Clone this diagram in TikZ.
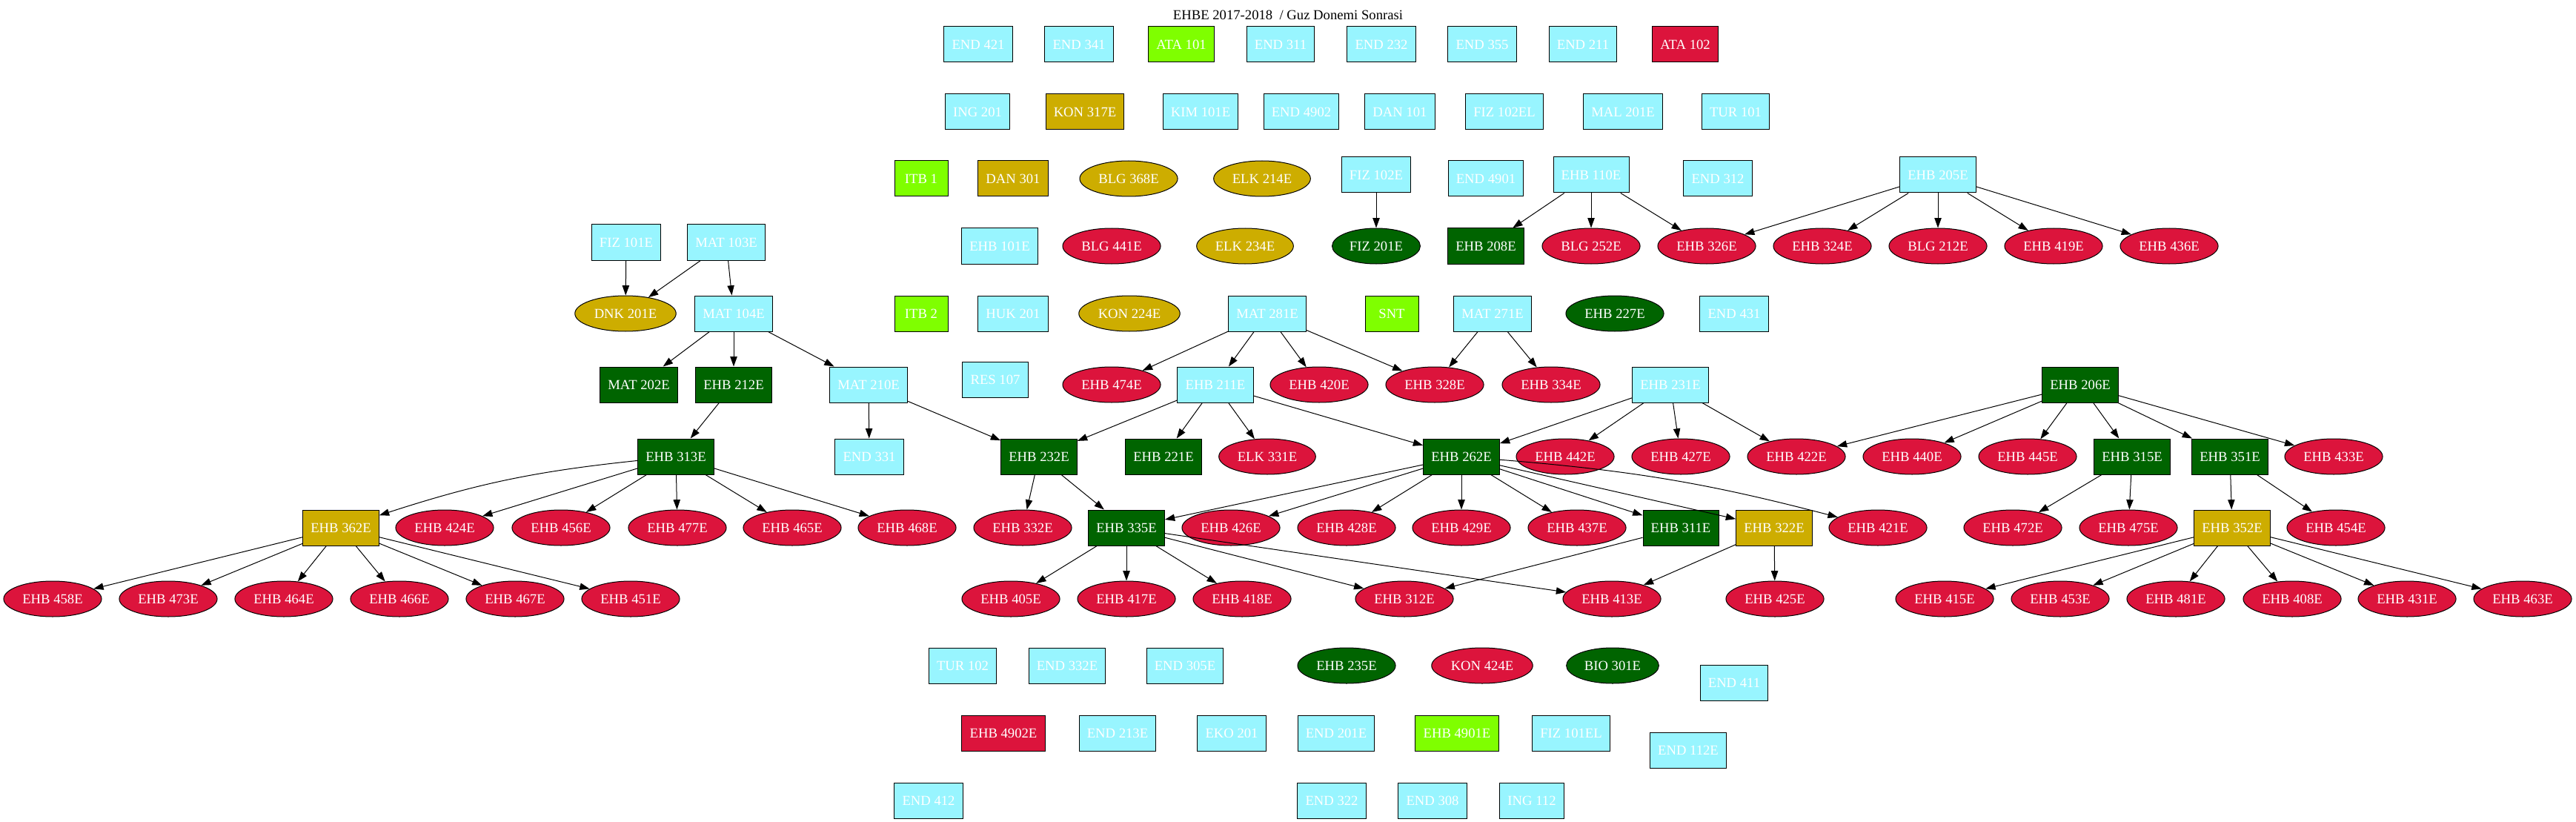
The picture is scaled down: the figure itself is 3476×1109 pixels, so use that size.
\documentclass[tikz,border=0pt]{standalone}
\usepackage{fontspec}
\setmainfont{Liberation Serif}
\usetikzlibrary{shapes.geometric,arrows.meta}

\definecolor{cadet}{HTML}{98F5FF}
\definecolor{chart}{HTML}{7FFF00}
\definecolor{goldc}{HTML}{CDAD00}
\definecolor{crim}{HTML}{DC143C}
\definecolor{dgreen}{HTML}{006400}

\tikzset{
  course/.style={draw=black, line width=0.75pt, text=white,
    font=\fontsize{14}{16}\selectfont, minimum height=36pt},
  bx/.style={course, rectangle, inner xsep=8pt, inner ysep=0pt, minimum width=54pt},
  el/.style={course, ellipse, inner xsep=4.5pt, inner ysep=0pt},
  lightbox/.style={bx, fill=cadet},
  greenbox/.style={bx, fill=chart},
  redbox/.style={bx, fill=crim},
  goldbox/.style={bx, fill=goldc},
  goldell/.style={el, fill=goldc},
  darkbox/.style={bx, fill=dgreen},
  darkell/.style={el, fill=dgreen},
  redell/.style={el, fill=crim},
  prereq/.style={-{Triangle[length=10pt,width=7pt]}, line width=0.75pt}
}

\begin{document}
\begin{tikzpicture}[x=0.75pt,y=-0.75pt]
	\useasboundingbox (0,0) rectangle (3476,1109);

	\node[font=\fontsize{14}{16}\selectfont] (title) at (1738,20) {EHBE 2017-2018 \ / Guz Donemi Sonrasi};

	% open courses: name / x / y / label
	\foreach \nm/\x/\y/\lbl in {end421/1320/60/END 421, end341/1456/60/END 341,
		end311/1728/60/END 311, end232/1864/60/END 232, end355/2000/60/END 355,
		end211/2136/60/END 211, ing201/1319/151/ING 201, kim101/1620/151/KIM 101E,
		end4902/1756/151/END 4902, dan101/1889/151/DAN 101, fiz102el/2030/151/FIZ 102EL,
		mal201/2190/151/MAL 201E, tur101/2342/151/TUR 101, fiz102/1857/236/FIZ 102E,
		end4901/2005/241/END 4901, e110/2147/236/EHB 110E, end312/2318/241/END 312,
		e205/2615/236/EHB 205E, fiz101/845/327/FIZ 101E, mat103/980/327/MAT 103E,
		e101/1349/332/EHB 101E, mat104/990/423/MAT 104E, huk201/1367/423/HUK 201,
		mat281/1710/423/MAT 281E, mat271/2014/423/MAT 271E, end431/2340/423/END 431,
		mat210/1172/519/MAT 210E, res107/1343/512/RES 107, e211/1640/519/EHB 211E,
		e231/2254/519/EHB 231E, end331/1173/616/END 331, tur102/1299/898/TUR 102,
		end332/1440/898/END 332E, end305/1599/898/END 305E, end411/2340/921/END 411,
		end213/1508/989/END 213E, eko201/1662/989/EKO 201, end201/1803/989/END 201E,
		fiz101el/2120/989/FIZ 101EL, end112/2278/1012/END 112E, end412/1253/1080/END 412,
		end322/1797/1080/END 322, end308/1933/1080/END 308, ing112/2067/1080/ING 112}{
		\node[lightbox] (\nm) at (\x,\y) {\lbl};
	}

	% passed
	\foreach \nm/\x/\y/\lbl in {ata101/1594/60/ATA 101, itb1/1243/241/ITB 1,
		itb2/1243/423/ITB 2, snt/1878/423/SNT, e4901/1966/989/EHB 4901E}{
		\node[greenbox] (\nm) at (\x,\y) {\lbl};
	}
	\node[redbox] (ata102) at (2274,60) {ATA 102};
	\node[redbox] (e4902) at (1354,989) {EHB 4902E};

	% gold
	\foreach \nm/\x/\y/\lbl in {kon317/1464/151/KON 317E, dan301/1367/241/DAN 301,
		e362/460/712/EHB 362E, e322/2394/712/EHB 322E, e352/3012/712/EHB 352E}{
		\node[goldbox] (\nm) at (\x,\y) {\lbl};
	}
	\foreach \nm/\x/\y/\lbl in {blg368/1523/241/BLG 368E, elk214/1703/241/ELK 214E,
		elk234/1680/332/ELK 234E, dnk201/844/423/DNK 201E, kon224/1524/423/KON 224E}{
		\node[goldell] (\nm) at (\x,\y) {\lbl};
	}

	% dark green
	\foreach \nm/\x/\y/\lbl in {e208/2005/332/EHB 208E, mat202/862/519/MAT 202E,
		e212/990/519/EHB 212E, e206/2807/519/EHB 206E, e313/912/616/EHB 313E,
		e232/1402/616/EHB 232E, e221/1570/616/EHB 221E, e262/1972/616/EHB 262E,
		e315/2877/616/EHB 315E, e351/3009/616/EHB 351E, e335/1520/712/EHB 335E,
		e311/2268/712/EHB 311E}{
		\node[darkbox] (\nm) at (\x,\y) {\lbl};
	}
	\foreach \nm/\x/\y/\lbl in {fiz201/1857/332/FIZ 201E, e227/2179/423/EHB 227E,
		e235/1817/898/EHB 235E, bio301/2176/898/BIO 301E}{
		\node[darkell] (\nm) at (\x,\y) {\lbl};
	}

	% red ellipses
	\node[redell] (blg441) at (1500,332) {BLG 441E};
	\node[redell] (blg252) at (2147,332) {BLG 252E};
	\node[redell] (blg212) at (2615,332) {BLG 212E};
	\node[redell] (elk331) at (1710,616) {ELK 331E};
	\node[redell] (kon424) at (2000,898) {KON 424E};
	\foreach \n/\x/\y in {326/2303/332, 324/2459/332, 419/2771/332, 436/2927/332,
		474/1500/519, 420/1780/519, 328/1936/519, 334/2093/519,
		442/2112/616, 427/2268/616, 422/2424/616, 440/2580/616, 445/2736/616, 433/3149/616,
		424/600/712, 456/757/712, 477/914/712, 465/1069/712, 468/1224/712, 332/1380/712,
		426/1661/712, 428/1817/712, 429/1972/712, 437/2128/712, 421/2534/712,
		472/2716/712, 475/2872/712, 454/3152/712,
		458/71/808, 473/227/808, 464/383/808, 466/539/808, 467/695/808, 451/851/808,
		405/1364/808, 417/1520/808, 418/1676/808, 312/1895/808, 413/2175/808,
		425/2395/808, 415/2624/808, 453/2780/808, 481/2936/808, 408/3093/808,
		431/3248/808, 463/3404/808}{
		\node[redell] (e\n) at (\x,\y) {EHB \n E};
	}

	% prerequisites
	\foreach \a/\b in {fiz101/dnk201, mat103/dnk201, mat103/mat104, mat104/mat202,
		mat104/e212, mat104/mat210, e212/e313, mat210/end331, mat210/e232,
		e313/e424, e313/e456, e313/e477, e313/e465, e313/e468,
		e362/e458, e362/e473, e362/e464, e362/e466, e362/e467, e362/e451,
		mat281/e474, mat281/e211, mat281/e420, mat281/e328, mat271/e328, mat271/e334,
		fiz102/fiz201, e110/e208, e110/blg252, e110/e326,
		e205/e326, e205/e324, e205/blg212, e205/e419, e205/e436,
		e211/e232, e211/e221, e211/elk331, e211/e262,
		e231/e262, e231/e442, e231/e427, e231/e422,
		e206/e422, e206/e440, e206/e445, e206/e315, e206/e351, e206/e433,
		e232/e332, e232/e335,
		e262/e335, e262/e426, e262/e428, e262/e429, e262/e437, e262/e311, e262/e322,
		e335/e405, e335/e417, e335/e418, e335/e312, e335/e413,
		e311/e312, e322/e413, e322/e425, e315/e472, e315/e475, e351/e352, e351/e454,
		e352/e415, e352/e453, e352/e481, e352/e408, e352/e431, e352/e463}{
		\draw[prereq] (\a) -- (\b);
	}
	\draw[prereq] (e313) to[bend right=6] (e362);
	\draw[prereq] (e262) to[bend left=5] (e421);

\end{tikzpicture}
\end{document}
